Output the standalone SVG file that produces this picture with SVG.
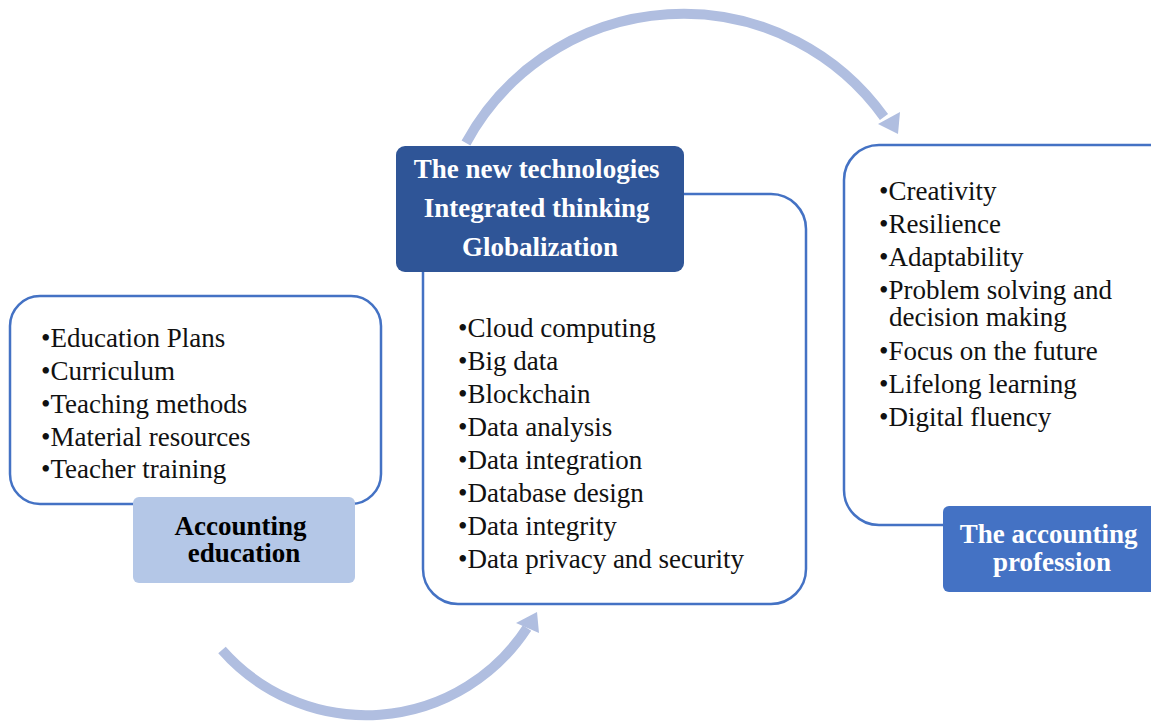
<svg xmlns="http://www.w3.org/2000/svg" width="1151" height="726" viewBox="0 0 1151 726">
  <style>
    .frame { fill: #ffffff; stroke: #4472C4; stroke-width: 2.5; }
    .item { font-family: "Liberation Serif", "Times New Roman", serif; font-size: 27px; fill: #111111; }
    .title { font-family: "Liberation Serif", "Times New Roman", serif; font-size: 27px; font-weight: bold; text-anchor: middle; }
    .flow { fill: none; stroke: #B0BEE0; stroke-width: 10; }
    .head { fill: #B0BEE0; }
  </style>

  <!-- curved flow arrows between the three stages -->
  <g id="connectors">
    <path class="flow" d="M222,650 A192,192 0 0 0 527,628"/>
    <polygon class="head" points="537,612 516,623 539,633"/>
    <path class="flow" d="M466,143 A247,247 0 0 1 884,117"/>
    <polygon class="head" points="898,134 878,124 900,112"/>
  </g>

  <!-- stage 1: accounting education -->
  <g id="accounting-education">
    <rect class="frame" x="10" y="296" width="371" height="208" rx="30" ry="30"/>
    <text class="item">
      <tspan x="41" y="347">•Education Plans</tspan>
      <tspan x="41" y="380">•Curriculum</tspan>
      <tspan x="41" y="413">•Teaching methods</tspan>
      <tspan x="41" y="446">•Material resources</tspan>
      <tspan x="41" y="478">•Teacher training</tspan>
    </text>
    <rect x="133" y="497" width="222" height="86" rx="6" ry="6" fill="#B4C7E7"/>
    <text class="title" fill="#000000">
      <tspan x="244" y="535">Accounting</tspan>
      <tspan x="244" y="562">education</tspan>
    </text>
  </g>

  <!-- stage 2: new technologies -->
  <g id="new-technologies">
    <rect class="frame" x="423" y="194" width="383" height="410" rx="35" ry="35"/>
    <text class="item">
      <tspan x="458" y="337">•Cloud computing</tspan>
      <tspan x="458" y="370">•Big data</tspan>
      <tspan x="458" y="403">•Blockchain</tspan>
      <tspan x="458" y="436">•Data analysis</tspan>
      <tspan x="458" y="469">•Data integration</tspan>
      <tspan x="458" y="502">•Database design</tspan>
      <tspan x="458" y="535">•Data integrity</tspan>
      <tspan x="458" y="568">•Data privacy and security</tspan>
    </text>
    <rect x="396" y="146" width="288" height="126" rx="9" ry="9" fill="#2F5597"/>
    <text class="title" fill="#ffffff">
      <tspan x="540" y="178">The new technologies</tspan>
      <tspan x="540" y="217">Integrated thinking</tspan>
      <tspan x="540" y="256">Globalization</tspan>
    </text>
  </g>

  <!-- stage 3: the accounting profession -->
  <g id="accounting-profession">
    <rect class="frame" x="844" y="145" width="345" height="380" rx="35" ry="35"/>
    <text class="item">
      <tspan x="879" y="200">•Creativity</tspan>
      <tspan x="879" y="233">•Resilience</tspan>
      <tspan x="879" y="266">•Adaptability</tspan>
      <tspan x="879" y="299">•Problem solving and</tspan>
      <tspan x="889" y="326">decision making</tspan>
      <tspan x="879" y="360">•Focus on the future</tspan>
      <tspan x="879" y="393">•Lifelong learning</tspan>
      <tspan x="879" y="426">•Digital fluency</tspan>
    </text>
    <rect x="943" y="506" width="220" height="86" rx="6" ry="6" fill="#4472C4"/>
    <text class="title" fill="#ffffff">
      <tspan x="1052" y="543">The accounting</tspan>
      <tspan x="1052" y="571">profession</tspan>
    </text>
  </g>
</svg>
